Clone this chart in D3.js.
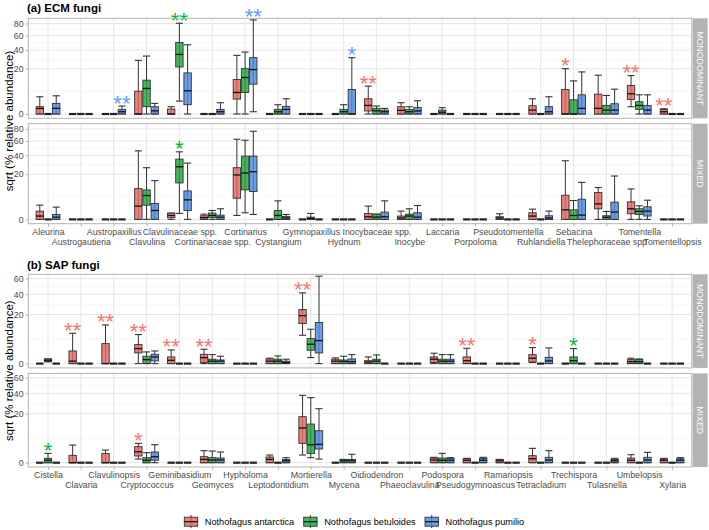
<!DOCTYPE html>
<html>
<head>
<meta charset="utf-8">
<script src="https://cdn.jsdelivr.net/npm/d3@7"></script>
<style>
  body { margin: 0; background: #fff; }
  svg { display: block; font-family: "Liberation Sans", Arial, sans-serif; }
</style>
</head>
<body>
<svg width="709" height="530"></svg>
<script>
const species = ["Nothofagus antarctica", "Nothofagus betuloides", "Nothofagus pumilio"];
const speciesFill = ["#E5655E", "#1CA83B", "#4C88E2"];
const starColor = ["#F8766D", "#00BA38", "#619CFF"];
const facetLabels = ["MONODOMINANT", "MIXED"];

const ecmGenera = ["Aleurina", "Austrogautieria", "Austropaxillus", "Clavulina", "Clavulinaceae spp.",
  "Cortinariaceae spp.", "Cortinarius", "Cystangium", "Gymnopaxillus", "Hydnum", "Inocybaceae spp.",
  "Inocybe", "Laccaria", "Porpoloma", "Pseudotomentella", "Ruhlandiella", "Sebacina",
  "Thelephoraceae spp", "Tomentella", "Tomentellopsis"];
const sapGenera = ["Cistella", "Clavaria", "Clavulinopsis", "Cryptococcus", "Geminibasidium", "Geomyces",
  "Hypholoma", "Leptodontidium", "Mortierella", "Mycena", "Oidiodendron", "Phaeoclavulina", "Podospora",
  "Pseudogymnoascus", "Ramariopsis", "Tetracladium", "Trechispora", "Tulasnella", "Umbelopsis", "Xylaria"];

const ecmTicks = [0, 20, 40, 60, 80];
const sapTicks = [0, 20, 40, 60];

// one row per genus: [antarctica, betuloides, pumilio]
// 0 = all zero, otherwise [min, q1, median, q3, max] in % relative abundance
const ecmMono = [
  [[0, 0, 0.3, 0.52, 2.9], 0, [0, 0, 0.31, 1.1, 3.24]],
  [0, 0, 0],
  [0, 0, [0, 0, 0.05, 0.21, 0.62]],
  [[0, 0, 0, 5.1, 28.1], [0, 0.52, 6.36, 11.2, 32.8], [0, 0, 0.1, 0.52, 1.1]],
  [[0, 0, 0, 0.24, 0.52], [1.63, 21.6, 34.7, 50, 80.5], [0, 0.84, 5.25, 16.5, 46.8]],
  [0, 0, [0, 0, 0.05, 0.21, 1.24]],
  [[0, 2.17, 4.53, 11.6, 33.6], [0, 4.53, 13.0, 20.1, 37.5], [0.05, 8.7, 19.3, 31.0, 86.5]],
  [0, [0, 0, 0.05, 0.21, 0.84], [0, 0, 0.2, 0.57, 2.27]],
  [0, 0, 0],
  [0, [0, 0, 0.05, 0.21, 0.84], [0, 0, 0, 5.87, 31]],
  [[0, 0.09, 0.72, 2.27, 7.57], [0, 0, 0.1, 0.31, 0.62], [0, 0, 0.05, 0.15, 0.31]],
  [[0, 0, 0.13, 0.52, 1.24], [0, 0, 0.05, 0.21, 0.52], [0, 0, 0.09, 0.43, 1.72]],
  [0, [0, 0, 0.03, 0.15, 0.39], 0],
  [0, 0, 0],
  [0, 0, 0],
  [[0, 0, 0.15, 0.67, 2.27], 0, [0, 0, 0.05, 0.52, 2.9]],
  [[0, 0, 0, 5.87, 20.1], [0, 0, 0, 1.98, 10.7], [0, 0, 0.31, 3.6, 17.3]],
  [[0, 0, 0.31, 3.86, 14.7], [0, 0, 0.15, 0.72, 3.36], [0, 0, 0.15, 1.03, 6.03]],
  [[0.52, 2.07, 3.99, 7.93, 14.4], [0, 0.21, 0.72, 1.47, 3.6], [0, 0, 0.15, 0.72, 3.6]],
  [[0, 0, 0.05, 0.21, 0.27], 0, 0]
];

const ecmMixed = [
  [[0, 0, 0.11, 0.67, 1.98], 0, [0, 0, 0.05, 0.24, 1.47]],
  [0, 0, 0],
  [0, 0, 0],
  [[0, 0, 1.72, 9.27, 45.9], [0, 1.98, 5.56, 8.5, 26.1], [0, 0, 0.78, 2.47, 14.7]],
  [[0, 0.03, 0.15, 0.39, 0.39], [0.35, 13.0, 27.1, 35.5, 44.6], [0, 0.78, 3.73, 7.93, 31]],
  [[0, 0, 0.03, 0.13, 0.27], [0, 0.03, 0.15, 0.39, 0.78], [0, 0, 0.05, 0.18, 1.1]],
  [[0.15, 4.39, 19.3, 26.1, 62.8], [0.43, 8.5, 21.0, 39.1, 61.2], [0.24, 7.57, 22.2, 39.1, 75.9]],
  [0, [0, 0, 0.15, 0.78, 3.36], [0, 0, 0.02, 0.09, 0.24]],
  [0, [0, 0, 0.01, 0.05, 0.35], 0],
  [0, 0, 0],
  [[0, 0, 0.07, 0.35, 1.72], [0, 0, 0.05, 0.27, 0.27], [0, 0, 0.07, 0.52, 3.36]],
  [[0, 0, 0.02, 0.11, 0.67], [0, 0, 0.11, 0.27, 1.1], [0, 0, 0.05, 0.43, 1.89]],
  [0, 0, 0],
  [0, 0, 0],
  [[0, 0, 0.02, 0.07, 0.31], 0, 0],
  [[0, 0, 0.11, 0.43, 1.03], 0, [0, 0, 0.02, 0.13, 0.67]],
  [[0, 0, 0.9, 5.71, 33.6], [0, 0, 0.15, 0.9, 3.48], [0, 0, 0.18, 3.99, 13.4]],
  [[0, 1.1, 2.37, 7.03, 9.88], [0, 0, 0.04, 0.13, 0.62], [0, 0, 0.52, 2.9, 18.4]],
  [[0, 0.31, 1.1, 3.0, 9.07], [0, 0.24, 0.62, 1.1, 1.8], [0, 0.11, 0.67, 1.55, 3.6]],
  [0, 0, 0]
];

const sapMono = [
  [0, [0.03, 0.03, 0.09, 0.18, 0.18], 0],
  [[0, 0, 0.05, 1.33, 7.65], 0, 0],
  [[0, 0, 0, 3.32, 12.4], 0, 0],
  [[0, 0.95, 1.87, 3.0, 6.99], [0, 0, 0.13, 0.45, 1.13], [0, 0.06, 0.37, 0.72, 1.33]],
  [[0, 0, 0.09, 0.37, 1.55], 0, 0],
  [[0, 0.01, 0.3, 0.72, 1.71], [0, 0, 0.05, 0.16, 0.67], [0, 0, 0.05, 0.11, 0.45]],
  [0, 0, 0],
  [[0, 0, 0.05, 0.18, 0.24], [0, 0, 0.05, 0.16, 0.49], [0, 0, 0.01, 0.05, 0.16]],
  [[6.67, 13.3, 19.1, 24.2, 41.5], [0.3, 1.48, 3.1, 5.19, 9.8], [0, 0.95, 4.4, 14.0, 63.4]],
  [[0, 0, 0.05, 0.16, 0.27], [0, 0, 0.04, 0.11, 0.45], [0, 0, 0.03, 0.18, 0.67]],
  [[0, 0, 0.02, 0.07, 0.37], [0, 0, 0.05, 0.16, 0.62], 0],
  [0, 0, 0],
  [[0, 0.01, 0.16, 0.37, 0.89], [0, 0, 0.05, 0.16, 0.67], [0, 0, 0.05, 0.16, 0.67]],
  [[0, 0, 0.07, 0.37, 1.95], 0, 0],
  [0, 0, 0],
  [[0.01, 0.02, 0.24, 0.67, 2.13], 0, [0, 0, 0.06, 0.33, 2.04]],
  [0, [0, 0, 0.07, 0.37, 1.87], 0],
  [0, 0, 0],
  [[0, 0, 0.03, 0.13, 0.24], [0, 0, 0.03, 0.13, 0.18], 0],
  [0, 0, 0]
];

const sapMixed = [
  [0, [0, 0, 0.05, 0.16, 0.72], 0],
  [[0, 0, 0, 0.45, 2.59], 0, 0],
  [[0, 0, 0, 0.72, 1.33], 0, 0],
  [[0.11, 0.37, 1.0, 2.13, 3.1], [0, 0, 0.05, 0.21, 0.83], [0, 0.05, 0.3, 0.95, 2.69]],
  [0, 0, 0],
  [[0, 0, 0.09, 0.3, 1.2], [0, 0, 0.06, 0.21, 1.13], [0, 0, 0.06, 0.18, 0.95]],
  [0, 0, 0],
  [[0, 0, 0.09, 0.27, 0.49], 0, [0, 0, 0.03, 0.09, 0.21]],
  [[0.49, 3.1, 10.0, 17.6, 37.7], [0.21, 0.72, 2.69, 12.4, 35.1], [0.11, 1.55, 2.79, 8.5, 24.2]],
  [0, [0, 0, 0.03, 0.09, 0.09], [0, 0, 0.03, 0.09, 0.58]],
  [0, 0, 0],
  [0, 0, 0],
  [[0, 0, 0.06, 0.18, 0.24], [0, 0, 0.05, 0.18, 0.72], [0, 0, 0.05, 0.16, 0.21]],
  [[0, 0, 0.05, 0.13, 0.16], 0, [0, 0, 0.05, 0.16, 0.24]],
  [[0, 0, 0.03, 0.09, 0.09], 0, 0],
  [[0, 0, 0.13, 0.41, 1.71], 0, [0, 0, 0.06, 0.24, 1.2]],
  [0, 0, 0],
  [0, 0, [0, 0, 0.03, 0.09, 0.16]],
  [[0, 0, 0.05, 0.18, 0.53], 0, [0, 0, 0.06, 0.24, 0.89]],
  [[0, 0, 0.05, 0.11, 0.16], 0, [0, 0, 0.05, 0.13, 0.21]]
];

// significance marks: [genus, species index, label]
const ecmMonoSig = [["Austropaxillus", 2, "**"], ["Clavulinaceae spp.", 1, "**"], ["Cortinarius", 2, "**"],
  ["Hydnum", 2, "*"], ["Inocybaceae spp.", 0, "**"], ["Sebacina", 0, "*"], ["Tomentella", 0, "**"],
  ["Tomentellopsis", 0, "**"]];
const ecmMixedSig = [["Clavulinaceae spp.", 1, "*"]];
const sapMonoSig = [["Clavaria", 0, "**"], ["Clavulinopsis", 0, "**"], ["Cryptococcus", 0, "**"],
  ["Geminibasidium", 0, "**"], ["Geomyces", 0, "**"], ["Mortierella", 0, "**"],
  ["Pseudogymnoascus", 0, "**"], ["Tetracladium", 0, "*"], ["Trechispora", 1, "*"]];
const sapMixedSig = [["Cistella", 1, "*"], ["Cryptococcus", 0, "*"]];

const svg = d3.select("svg");
const xLeft = 28.3, xRight = 691.8;
const stripW = 15;

function drawPlot(cfg) {
  const x = d3.scalePoint().domain(cfg.genera).range([xLeft, xRight]).padding(0.6);
  const step = x.step();
  const dodge = step * 0.25;
  const boxW = step * 0.225;

  svg.append("text")
    .attr("x", 27).attr("y", cfg.titleY)
    .attr("font-size", 11.5).attr("font-weight", "bold").attr("fill", "#000")
    .text(cfg.title);

  cfg.panels.forEach((p, pi) => {
    const bottom = p.top + cfg.panelH;
    const y = d3.scaleSqrt().domain([0, cfg.yMax]).range([bottom - 4.3, p.top]);
    const g = svg.append("g");

    // minor grid: midpoints in sqrt space
    const minor = [];
    const sq = cfg.ticks.concat([cfg.ticks[cfg.ticks.length - 1] + 20]).map(Math.sqrt);
    for (let i = 0; i < sq.length - 1; i++) {
      const v = Math.pow((sq[i] + sq[i + 1]) / 2, 2);
      if (v < cfg.yMax) minor.push(v);
    }
    g.selectAll(".minor").data(minor).join("line")
      .attr("x1", xLeft).attr("x2", xRight)
      .attr("y1", d => y(d)).attr("y2", d => y(d))
      .attr("stroke", "#F0F0F0").attr("stroke-width", 0.6);
    g.selectAll(".major").data(cfg.ticks).join("line")
      .attr("x1", xLeft).attr("x2", xRight)
      .attr("y1", d => y(d)).attr("y2", d => y(d))
      .attr("stroke", "#E3E3E3").attr("stroke-width", 0.9);
    g.selectAll(".vgrid").data(cfg.genera).join("line")
      .attr("x1", d => x(d)).attr("x2", d => x(d))
      .attr("y1", p.top).attr("y2", bottom)
      .attr("stroke", "#E3E3E3").attr("stroke-width", 0.9);

    // boxes
    p.data.forEach((row, gi) => {
      const cx0 = x(cfg.genera[gi]);
      row.forEach((d, si) => {
        const cx = cx0 + (si - 1) * dodge;
        if (d === 0) {
          g.append("line")
            .attr("x1", cx - boxW / 2).attr("x2", cx + boxW / 2)
            .attr("y1", y(0)).attr("y2", y(0))
            .attr("stroke", "#222").attr("stroke-width", 2.2);
          return;
        }
        const [mn, q1, md, q3, mx] = d;
        g.append("line")
          .attr("x1", cx).attr("x2", cx).attr("y1", y(mn)).attr("y2", y(mx))
          .attr("stroke", "#333").attr("stroke-width", 1);
        [mn, mx].forEach(v => {
          g.append("line")
            .attr("x1", cx - boxW * 0.48).attr("x2", cx + boxW * 0.48)
            .attr("y1", y(v)).attr("y2", y(v))
            .attr("stroke", "#333").attr("stroke-width", 1.1);
        });
        g.append("rect")
          .attr("x", cx - boxW / 2).attr("width", boxW)
          .attr("y", y(q3)).attr("height", Math.max(y(q1) - y(q3), 0.5))
          .attr("fill", speciesFill[si]).attr("fill-opacity", 0.82)
          .attr("stroke", "#333").attr("stroke-width", 0.9);
        g.append("line")
          .attr("x1", cx - boxW / 2).attr("x2", cx + boxW / 2)
          .attr("y1", y(md)).attr("y2", y(md))
          .attr("stroke", "#111").attr("stroke-width", 1.3);
      });
    });

    // significance stars
    p.sig.forEach(([gen, si, lab]) => {
      const gi = cfg.genera.indexOf(gen);
      const d = p.data[gi][si];
      const top = d === 0 ? 0 : d[4];
      svg.append("text")
        .attr("x", x(gen) + (si - 1) * dodge)
        .attr("y", y(top) - 8 + 12.5)
        .attr("text-anchor", "middle")
        .attr("font-size", 22).attr("fill", starColor[si])
        .text(lab);
    });

    // panel border
    svg.append("rect")
      .attr("x", xLeft).attr("y", p.top)
      .attr("width", xRight - xLeft).attr("height", cfg.panelH)
      .attr("fill", "none").attr("stroke", "#B3B3B3").attr("stroke-width", 1);

    // strip
    svg.append("rect")
      .attr("x", xRight + 0.8).attr("y", p.top)
      .attr("width", stripW).attr("height", cfg.panelH)
      .attr("fill", "#B3B3B3");
    svg.append("text")
      .attr("transform", `translate(${xRight + 0.8 + stripW / 2},${p.top + cfg.panelH / 2}) rotate(90)`)
      .attr("text-anchor", "middle").attr("dy", "0.35em")
      .attr("font-size", 8.8).attr("fill", "#fff")
      .text(facetLabels[pi]);

    // y axis
    const ya = svg.append("g")
      .attr("transform", `translate(${xLeft},0)`)
      .call(d3.axisLeft(y).tickValues(cfg.ticks).tickSize(2.7).tickPadding(2).tickFormat(d3.format("d")));
    ya.select(".domain").remove();
    ya.selectAll(".tick line").attr("stroke", "#B3B3B3");
    ya.selectAll(".tick text").attr("fill", "#4D4D4D").attr("font-size", 8.8)
      .attr("font-family", "Liberation Sans, Arial, sans-serif");

    // x axis on the last panel only
    if (pi === cfg.panels.length - 1) {
      const xa = svg.append("g")
        .attr("transform", `translate(0,${bottom})`)
        .call(d3.axisBottom(x).tickSize(2.7).tickPadding(2));
      xa.select(".domain").remove();
      xa.selectAll(".tick line").attr("stroke", "#B3B3B3");
      xa.selectAll(".tick text")
        .attr("fill", "#4D4D4D").attr("font-size", 8.8)
        .attr("font-family", "Liberation Sans, Arial, sans-serif")
        .attr("dy", (d, i) => i % 2 === 0 ? "0.71em" : "1.9em");
    }
  });

  const first = cfg.panels[0].top;
  const last = cfg.panels[cfg.panels.length - 1].top + cfg.panelH;
  svg.append("text")
    .attr("transform", `translate(12.5,${(first + last) / 2}) rotate(-90)`)
    .attr("text-anchor", "middle")
    .attr("font-size", 11.5).attr("fill", "#000")
    .text("sqrt (% relative abundance)");
}

drawPlot({
  title: "(a) ECM fungi", titleY: 11.5, genera: ecmGenera, ticks: ecmTicks,
  yMax: 89.5, panelH: 100,
  panels: [
    { top: 18.3, data: ecmMono, sig: ecmMonoSig },
    { top: 123.7, data: ecmMixed, sig: ecmMixedSig }
  ]
});

drawPlot({
  title: "(b) SAP fungi", titleY: 269, genera: sapGenera, ticks: sapTicks,
  yMax: 66.2, panelH: 93.6,
  panels: [
    { top: 274.3, data: sapMono, sig: sapMonoSig },
    { top: 373.4, data: sapMixed, sig: sapMixedSig }
  ]
});

// legend
const legendX = [184.3, 303.7, 425];
const legend = svg.append("g").attr("transform", "translate(0,521.7)");
species.forEach((s, i) => {
  const lg = legend.append("g").attr("transform", `translate(${legendX[i]},0)`);
  lg.append("line").attr("x1", 6.7).attr("x2", 6.7).attr("y1", -6.5).attr("y2", 6.5)
    .attr("stroke", "#333").attr("stroke-width", 1);
  lg.append("rect").attr("x", 0).attr("y", -4.5).attr("width", 13.4).attr("height", 9)
    .attr("fill", speciesFill[i]).attr("fill-opacity", 0.82)
    .attr("stroke", "#333").attr("stroke-width", 0.9);
  lg.append("line").attr("x1", 0).attr("x2", 13.4).attr("y1", 0).attr("y2", 0)
    .attr("stroke", "#111").attr("stroke-width", 1.2);
  lg.append("text").attr("x", 20.5).attr("dy", "0.35em")
    .attr("font-size", 9.2).attr("fill", "#000").text(s);
});
</script>
</body>
</html>
